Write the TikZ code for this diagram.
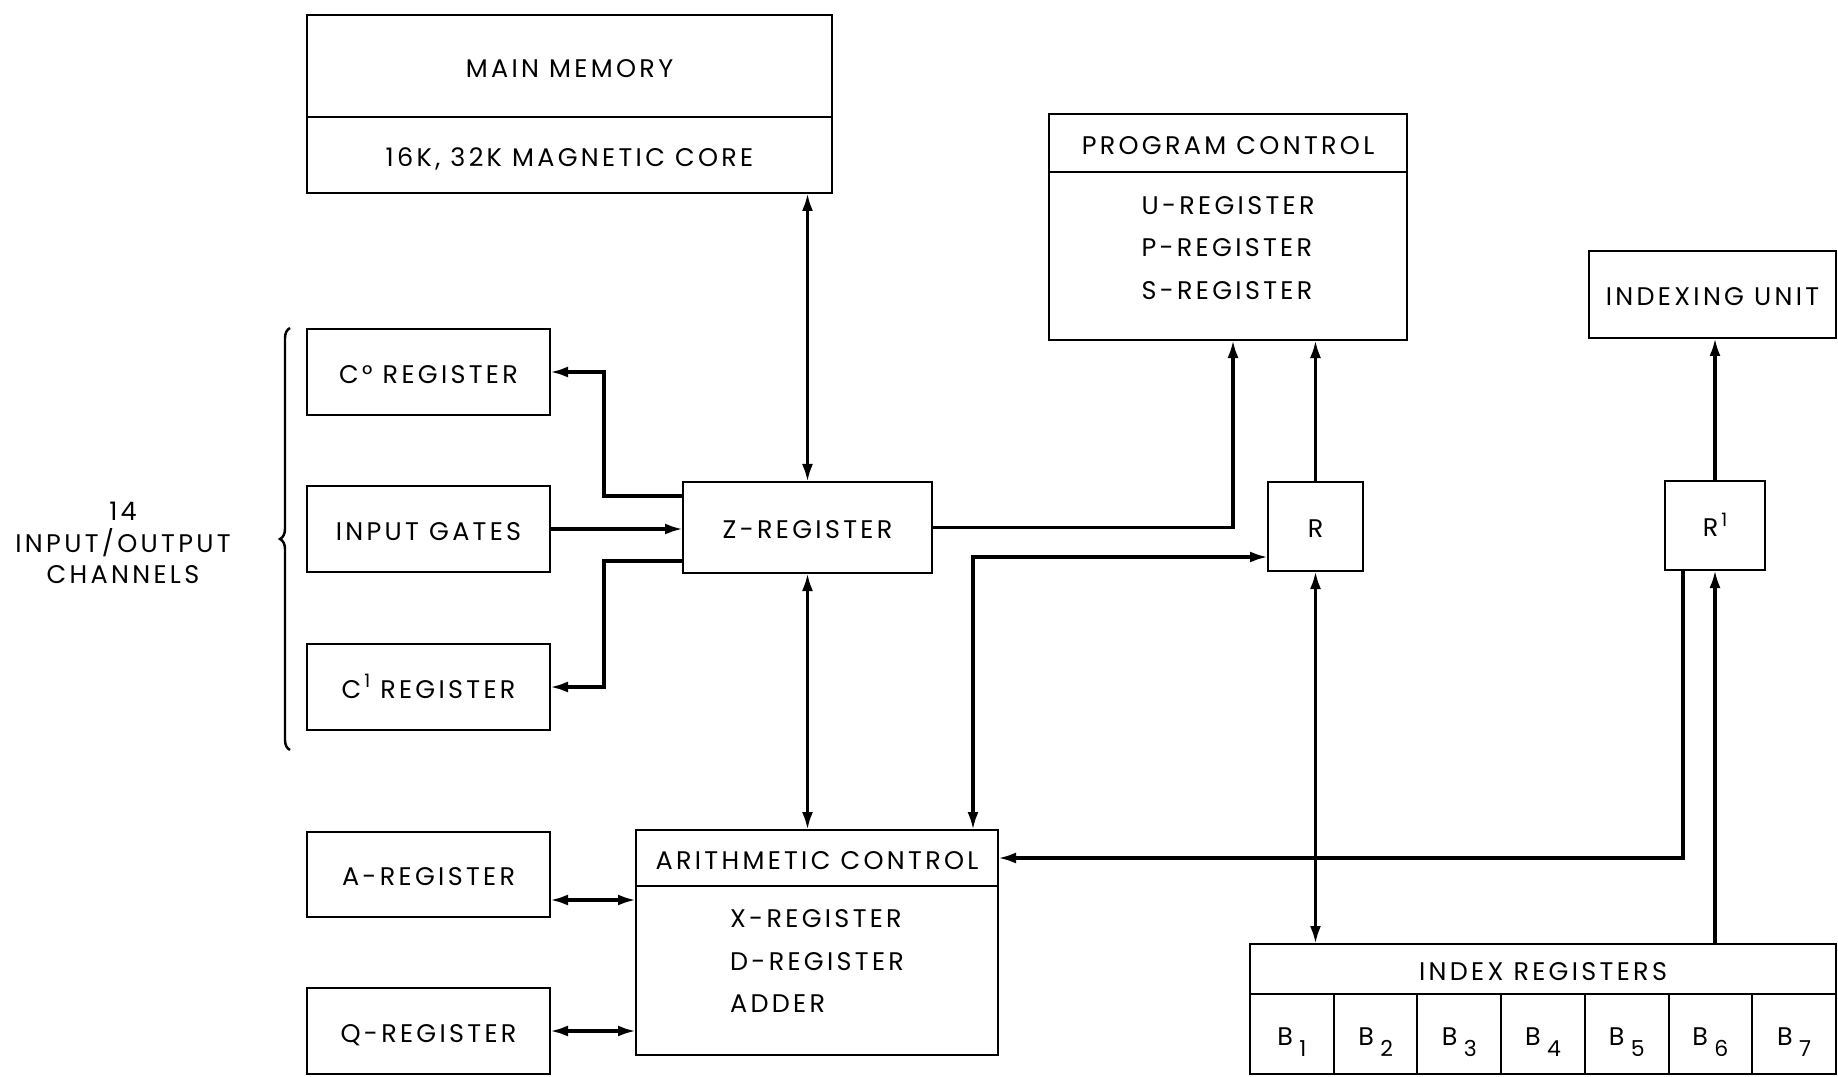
\documentclass[tikz,border=0pt]{standalone}
\usepackage{fontspec}
\setmainfont{Poppins}[LetterSpace=13]
\usepackage{tikz}
\usetikzlibrary{arrows.meta,positioning,calc,decorations.pathreplacing}
\tikzset{
    unitbox/.style={
        draw,
        line width=1.1pt,
        align=center,
        font=\fontsize{14.5pt}{17pt}\selectfont,
        text height=13pt,
        text depth=0pt,
        inner sep=0pt,
        outer sep=0pt,
        minimum width=48.6mm,
        minimum height=17.2mm
    },
    titlebox/.style={
        unitbox,
        minimum height=11.4mm
    },
    listtext/.style={
        align=left,
        inner sep=0pt,
        font=\fontsize{14.5pt}{24pt}\selectfont
    },
    cell/.style={
        unitbox,
        minimum width=16.74mm,
        minimum height=16mm
    },
    flow/.style={
        -{Latex[length=3.6mm,width=2.2mm]},
        line width=1.9pt
    },
    twoway/.style={
        {Latex[length=3.6mm,width=2.2mm]}-{Latex[length=3.6mm,width=2.2mm]},
        line width=1.9pt
    },
    bracket/.style={
        decorate,
        decoration={brace,amplitude=2mm},
        line width=1.4pt
    }
}
\newcommand{\bsub}[1]{\hspace{0.25em}\raisebox{-0.8ex}{\fontsize{12.5pt}{14pt}\selectfont #1}}
\newcommand{\bsup}[1]{\hspace{0.12em}\raisebox{0.75ex}{\fontsize{10.5pt}{12pt}\selectfont #1}}

\begin{document}
\begin{tikzpicture}[x=0.2mm,y=-0.2mm]
    \useasboundingbox (0,0) rectangle (1838,1077);

    \node[unitbox, minimum width=105mm, minimum height=20.4mm] (mem) at (569.5,66) {MAIN MEMORY};
    \node[unitbox, minimum width=105mm, minimum height=15.2mm, below=0pt of mem] (core) {16K, 32K MAGNETIC CORE};

    \node[titlebox, minimum width=71.6mm, minimum height=11.6mm] (pc) at (1228,143) {PROGRAM CONTROL};
    \node[unitbox, minimum width=71.6mm, minimum height=33.6mm, below=0pt of pc] (pcbody) {};
    \node[listtext] (pcregs) at (1228,248) {U-REGISTER\\P-REGISTER\\S-REGISTER};

    \node[unitbox, minimum width=49.4mm, minimum height=17.4mm] (iu) at (1712.5,294.5) {INDEXING UNIT};

    \node[unitbox] (czero) at (428.5,372) {C° REGISTER};
    \node[unitbox, below=14.2mm of czero] (gates) {INPUT GATES};
    \node[unitbox, below=14.4mm of gates] (cone) {C\bsup{1} REGISTER};

    \node[align=center, font=\fontsize{14.5pt}{18pt}\selectfont] (chan) at (123,543) {14\\INPUT/OUTPUT\\CHANNELS};
    \coordinate (bracelow) at (290,750);
    \coordinate (bracetop) at (290,328);
    \draw[bracket] (bracelow) -- (bracetop);

    \node[unitbox, minimum width=49.8mm, minimum height=18.2mm] (zreg) at (807.5,527.5) {Z-REGISTER};
    \node[unitbox, minimum width=19mm, minimum height=17.8mm] (r) at (1315.5,526.5) {R};
    \node[unitbox, minimum width=20mm, minimum height=17.8mm] (rone) at (1715,525.5) {R\bsup{1}};

    \node[unitbox, minimum height=17mm] (areg) at (428.5,874.5) {A-REGISTER};
    \node[unitbox, minimum height=17.2mm] (qreg) at (428.5,1031) {Q-REGISTER};

    \node[titlebox, minimum width=72.4mm, minimum height=11.2mm] (ac) at (817,858) {ARITHMETIC CONTROL};
    \node[unitbox, minimum width=72.4mm, minimum height=33.8mm, below=0pt of ac] (acbody) {};
    \node[listtext] (acregs) at (817,961) {X-REGISTER\\D-REGISTER\\ADDER};

    \node[unitbox, minimum width=117.2mm, minimum height=10mm] (ir) at (1543,969) {INDEX REGISTERS};
    \foreach \i in {1,...,7}
        \node[cell, anchor=north west] (b\i) at ({1250+83.71*(\i-1)},994) {B\bsub{\i}};

    \draw[twoway] (core.south -| zreg.north) -- (zreg.north);
    \draw[flow] ([yshift=6.3mm]zreg.west) -- ++(-79,0) |- (czero.east);
    \draw[flow] (gates.east) -- (gates.east -| zreg.west);
    \draw[flow] ([yshift=-6.7mm]zreg.west) -- ++(-79,0) |- (cone.east);
    \draw[twoway] (zreg.south) -- (zreg.south |- ac.north);
    \draw[flow] (zreg.east) -| ([xshift=1mm]pcbody.south);
    \draw[twoway] ([yshift=-6.1mm]r.west) -| ([xshift=31.2mm]ac.north);
    \draw[flow] (r.north) -- (r.north |- pcbody.south);
    \draw[twoway] (r.south) -- (r.south |- ir.north);
    \draw[flow] (rone.north) -- (rone.north |- iu.south);
    \draw[flow] ([xshift=-6.4mm]rone.south) |- (ac.east);
    \draw[flow] (ir.north -| rone.south) -- (rone.south);
    \draw[twoway] ([yshift=-5.1mm]areg.east) -- ([yshift=-5.1mm]areg.east -| acbody.west);
    \draw[twoway] (qreg.east) -- (qreg.east -| acbody.west);
\end{tikzpicture}
\end{document}
